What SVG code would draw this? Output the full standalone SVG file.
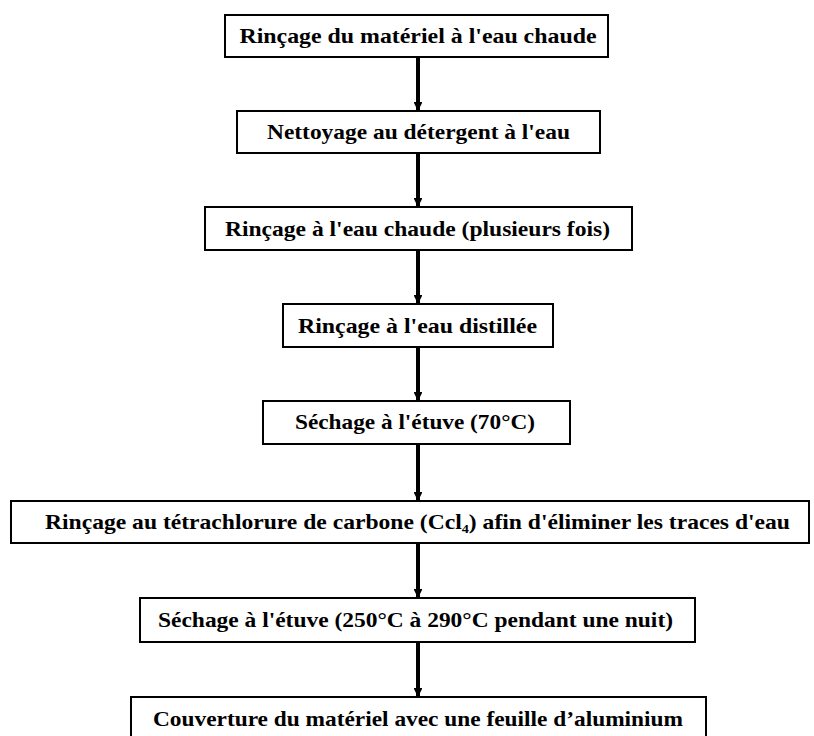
<svg xmlns="http://www.w3.org/2000/svg" width="814" height="736" viewBox="0 0 814 736">
<style>
.box{fill:#fff;stroke:#000;stroke-width:2}
.t{font-family:"Liberation Serif","Times New Roman",serif;font-weight:bold;font-size:21.5px;fill:#000;text-anchor:middle}
.c{stroke:#000;stroke-width:4;fill:none}
</style>
<defs>
<marker id="ah" viewBox="0 0 10 10" refX="9" refY="5" markerWidth="2.2" markerHeight="2.2" orient="auto" markerUnits="strokeWidth">
<path d="M0,0 L10,5 L0,10 z" fill="#000"/>
</marker>
</defs>
<rect width="814" height="736" fill="#fff"/>
<g id="connectors">
<line class="c" x1="418" y1="57" x2="418" y2="110" marker-end="url(#ah)"/>
<line class="c" x1="418" y1="153" x2="418" y2="206" marker-end="url(#ah)"/>
<line class="c" x1="418" y1="250" x2="418" y2="303" marker-end="url(#ah)"/>
<line class="c" x1="418" y1="347" x2="418" y2="400" marker-end="url(#ah)"/>
<line class="c" x1="418" y1="444" x2="418" y2="500" marker-end="url(#ah)"/>
<line class="c" x1="418" y1="543" x2="418" y2="597" marker-end="url(#ah)"/>
<line class="c" x1="418" y1="642" x2="418" y2="696" marker-end="url(#ah)"/>
</g>
<g id="n1"><rect class="box" x="225" y="15" width="383" height="42"/><text class="t" x="418" y="43" textLength="357" lengthAdjust="spacingAndGlyphs">Rinçage du matériel à l'eau chaude</text></g>
<g id="n2"><rect class="box" x="237" y="111" width="363" height="42"/><text class="t" x="418.5" y="139" textLength="303" lengthAdjust="spacingAndGlyphs">Nettoyage au détergent à l'eau</text></g>
<g id="n3"><rect class="box" x="205" y="207" width="427" height="43"/><text class="t" x="417.5" y="236" textLength="385" lengthAdjust="spacingAndGlyphs">Rinçage à l'eau chaude (plusieurs fois)</text></g>
<g id="n4"><rect class="box" x="283" y="304" width="270" height="43"/><text class="t" x="417.5" y="333" textLength="239" lengthAdjust="spacingAndGlyphs">Rinçage à l'eau distillée</text></g>
<g id="n5"><rect class="box" x="263" y="401" width="307" height="43"/><text class="t" x="415" y="429" textLength="240" lengthAdjust="spacingAndGlyphs">Séchage à l'étuve (70°C)</text></g>
<g id="n6"><rect class="box" x="11" y="501" width="798" height="42"/><text class="t" x="417.5" y="529" textLength="745" lengthAdjust="spacingAndGlyphs">Rinçage au tétrachlorure de carbone (Ccl<tspan font-size="13" dy="4">4</tspan><tspan dy="-4">) afin d'éliminer les traces d'eau</tspan></text></g>
<g id="n7"><rect class="box" x="140" y="598" width="555" height="44"/><text class="t" x="415.5" y="627" textLength="515" lengthAdjust="spacingAndGlyphs">Séchage à l'étuve (250°C à 290°C pendant une nuit)</text></g>
<g id="n8"><rect class="box" x="131" y="697" width="575" height="45"/><text class="t" x="418" y="726" textLength="530" lengthAdjust="spacingAndGlyphs">Couverture du matériel avec une feuille d’aluminium</text></g>
</svg>
